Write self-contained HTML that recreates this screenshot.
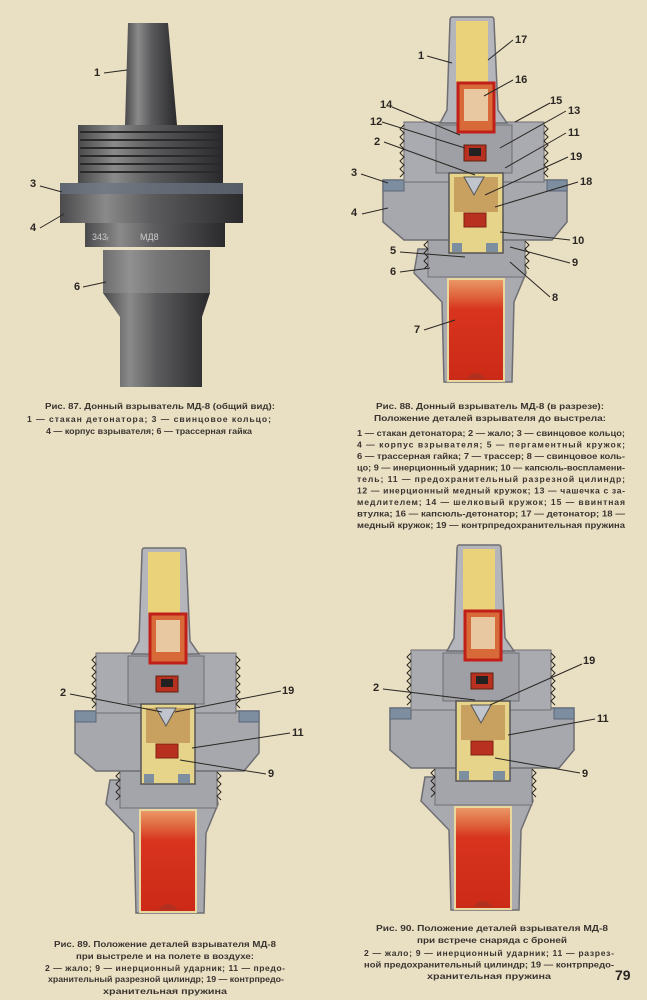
<!DOCTYPE html>
<html><head><meta charset="utf-8"><style>
html,body{margin:0;padding:0;background:#e9dfc3;}
svg{display:block}
text{font-family:"Liberation Sans","DejaVu Sans",sans-serif;}
.n{font-size:11px;font-weight:bold;fill:#2a2622}
.c{font-size:8.6px;font-weight:bold;fill:#3a3430}
.ld{stroke:#2a2622;stroke-width:1;fill:none}
</style></head><body>
<svg width="647" height="1000" viewBox="0 0 647 1000" xmlns="http://www.w3.org/2000/svg">
<defs>
<linearGradient id="mg" x1="0" x2="1" y1="0" y2="0">
<stop offset="0" stop-color="#4a4a4c"/><stop offset="0.25" stop-color="#8a8a8a"/><stop offset="0.5" stop-color="#5c5c5e"/><stop offset="1" stop-color="#2a2a2c"/></linearGradient>
<linearGradient id="tr" x1="0" x2="0" y1="0" y2="1">
<stop offset="0" stop-color="#eb9a6a"/><stop offset="0.15" stop-color="#e06a40"/><stop offset="0.3" stop-color="#d8341e"/><stop offset="1" stop-color="#cc2a18"/></linearGradient>
<g id="fuse">
 <!-- skirt -->
 <path d="M-56,232 L48,232 L52,256 L40,285 L38,365 L-30,365 L-32,285 L-60,256 Z" fill="#a9aab0" stroke="#6e6e72" stroke-width="1.5"/>
 <rect x="-26" y="262" width="56" height="102" fill="url(#tr)" stroke="#e8d8a0" stroke-width="2"/>
 <path d="M-8,362 Q2,350 12,362 Z" fill="#b03020"/>
 <!-- neck -->
 <rect x="-46" y="220" width="97" height="40" fill="#a3a5ab" stroke="#6e6e72"/>
 <path d="M-46,224 l-4,4 l4,4 l-4,4 l4,4 l-4,4 l4,4 l-4,4 M51,224 l4,4 l-4,4 l4,4 l-4,4 l4,4 l-4,4 l4,4" class="ld" stroke="#555"/>
 <!-- flange -->
 <path d="M-91,163 L93,163 L93,205 L78,223 L-70,223 L-91,205 Z" fill="#a6a8ae" stroke="#6e6e72" stroke-width="1.5"/>
 <rect x="-91" y="163" width="21" height="11" fill="#7d8ea0" stroke="#5a6676"/>
 <rect x="73" y="163" width="20" height="11" fill="#7d8ea0" stroke="#5a6676"/>
 <!-- thread block -->
 <rect x="-70" y="105" width="140" height="60" fill="#a9abb1" stroke="#6e6e72"/>
 <path d="M-70,108 l-4,4 l4,4 l-4,4 l4,4 l-4,4 l4,4 l-4,4 l4,4 l-4,4 l4,4 l-4,4 l4,4 l-4,4 M70,108 l4,4 l-4,4 l4,4 l-4,4 l4,4 l-4,4 l4,4 l-4,4 l4,4 l-4,4 l4,4 l-4,4 l4,4" class="ld" stroke="#555"/>
 <rect x="-38" y="108" width="76" height="48" fill="#9ea0a6" stroke="#6e6e72"/>
 <!-- chamber -->
 <rect x="-25" y="156" width="54" height="80" fill="#e6d48a" stroke="#555" stroke-width="1.5"/>
 <rect x="-20" y="160" width="44" height="35" fill="#c8a060"/>
 <path d="M-10,160 L0,178 L10,160 Z" fill="#c0c4cc" stroke="#555"/>
 <rect x="-10" y="196" width="22" height="14" fill="#b83020" stroke="#802010"/>
 <rect x="-22" y="226" width="10" height="9" fill="#7d8ea0"/><rect x="12" y="226" width="12" height="9" fill="#7d8ea0"/>
 <rect x="-10" y="128" width="22" height="16" fill="#b83020" stroke="#602010"/>
 <rect x="-5" y="131" width="12" height="8" fill="#222"/>
 <!-- cap -->
 <path d="M-22,0 L18,0 Q20,0 20,4 L24,93 L33,106 L-34,106 L-27,93 L-24,4 Q-24,0 -22,0 Z" fill="#b4b6bc" stroke="#6e6e72" stroke-width="1.5"/>
 <rect x="-18" y="4" width="32" height="62" fill="#e9d27a"/>
 <rect x="-16" y="66" width="36" height="49" fill="#d86a3a" stroke="#c02018" stroke-width="3"/>
 <rect x="-10" y="72" width="24" height="32" fill="#e8c8a0"/>
</g>
</defs>

<!-- Fig 87 -->
<path d="M128,23 L168,23 L177,125 L125,125 Z" fill="url(#mg)"/>
<rect x="78" y="125" width="145" height="58" fill="url(#mg)"/>
<g stroke="#2a2a2a" stroke-width="2">
<line x1="80" y1="132" x2="221" y2="132"/><line x1="80" y1="140" x2="221" y2="140"/><line x1="80" y1="148" x2="221" y2="148"/><line x1="80" y1="156" x2="221" y2="156"/><line x1="80" y1="164" x2="221" y2="164"/><line x1="80" y1="172" x2="221" y2="172"/></g>
<rect x="60" y="183" width="183" height="40" fill="url(#mg)"/>
<rect x="60" y="183" width="183" height="11" fill="#6a7482" opacity="0.7"/>
<rect x="85" y="223" width="140" height="24" fill="url(#mg)"/>
<text x="92" y="240" font-size="9" fill="#ccc">343ᵣ</text><text x="140" y="240" font-size="9" fill="#ccc">МД8</text>
<path d="M103,250 L210,250 L210,293 L202,317 L202,387 L120,387 L120,317 L103,293 Z" fill="url(#mg)"/>
<rect x="103" y="250" width="107" height="43" fill="#9a9a9a" opacity="0.45"/>
<text class="n" x="94" y="76">1</text><line class="ld" x1="104" y1="73" x2="127" y2="70"/>
<text class="n" x="30" y="187">3</text><line class="ld" x1="40" y1="186" x2="62" y2="192"/>
<text class="n" x="30" y="231">4</text><line class="ld" x1="40" y1="228" x2="64" y2="214"/>
<text class="n" x="74" y="290">6</text><line class="ld" x1="83" y1="287" x2="106" y2="282"/>

<text class="c" x="160" y="409" text-anchor="middle" textLength="230" lengthAdjust="spacingAndGlyphs">Рис. 87. Донный взрыватель МД-8 (общий вид):</text>
<text class="c" x="27" y="422" textLength="244" lengthAdjust="spacing">1 — стакан детонатора; 3 — свинцовое кольцо;</text>
<text class="c" x="46" y="434" textLength="206" lengthAdjust="spacingAndGlyphs">4 — корпус взрывателя; 6 — трассерная гайка</text>

<!-- Fig 88 -->
<use href="#fuse" x="474" y="17"/>
<g class="n">
<text x="418" y="59">1</text><text x="515" y="43">17</text><text x="515" y="83">16</text><text x="550" y="104">15</text>
<text x="380" y="108">14</text><text x="568" y="114">13</text><text x="370" y="125">12</text><text x="568" y="136">11</text>
<text x="374" y="145">2</text><text x="570" y="160">19</text><text x="351" y="176">3</text><text x="580" y="185">18</text>
<text x="351" y="216">4</text><text x="572" y="244">10</text><text x="390" y="254">5</text><text x="572" y="266">9</text>
<text x="390" y="275">6</text><text x="552" y="301">8</text><text x="414" y="333">7</text></g>
<g class="ld">
<path d="M427,56 L452,63 M513,40 L488,60 M513,80 L484,96 M550,103 L515,122 M392,107 L460,135 M566,111 L500,148 M382,122 L465,148 M566,133 L505,168 M384,142 L475,175 M568,157 L485,195 M361,174 L388,183 M578,182 L495,207 M362,214 L388,208 M570,240 L500,232 M400,252 L465,257 M570,263 L510,247 M400,272 L430,268 M550,297 L510,262 M424,330 L455,320"/></g>
<text class="c" x="490" y="409" text-anchor="middle" textLength="228" lengthAdjust="spacingAndGlyphs">Рис. 88. Донный взрыватель МД-8 (в разрезе):</text>
<text class="c" x="490" y="421" text-anchor="middle" textLength="232" lengthAdjust="spacingAndGlyphs">Положение деталей взрывателя до выстрела:</text>
<g class="c">
<text x="357" y="436" textLength="268" lengthAdjust="spacingAndGlyphs">1 — стакан детонатора; 2 — жало; 3 — свинцовое кольцо;</text>
<text x="357" y="447.5" textLength="268" lengthAdjust="spacing">4 — корпус взрывателя; 5 — пергаментный кружок;</text>
<text x="357" y="459" textLength="268" lengthAdjust="spacingAndGlyphs">6 — трассерная гайка; 7 — трассер; 8 — свинцовое коль-</text>
<text x="357" y="470.5" textLength="268" lengthAdjust="spacingAndGlyphs">цо; 9 — инерционный ударник; 10 — капсюль-воспламени-</text>
<text x="357" y="482" textLength="268" lengthAdjust="spacing">тель; 11 — предохранительный разрезной цилиндр;</text>
<text x="357" y="493.5" textLength="268" lengthAdjust="spacing">12 — инерционный медный кружок; 13 — чашечка с за-</text>
<text x="357" y="505" textLength="268" lengthAdjust="spacing">медлителем; 14 — шелковый кружок; 15 — ввинтная</text>
<text x="357" y="516.5" textLength="268" lengthAdjust="spacingAndGlyphs">втулка; 16 — капсюль-детонатор; 17 — детонатор; 18 —</text>
<text x="357" y="528" textLength="268" lengthAdjust="spacingAndGlyphs">медный кружок; 19 — контрпредохранительная пружина</text></g>

<!-- Fig 89 -->
<use href="#fuse" x="166" y="548"/>
<g class="n"><text x="60" y="696">2</text><text x="282" y="694">19</text><text x="292" y="736">11</text><text x="268" y="777">9</text></g>
<g class="ld"><path d="M70,694 L162,712 M281,691 L175,712 M290,733 L192,748 M266,774 L180,760"/></g>
<text class="c" x="165" y="947" text-anchor="middle" textLength="222" lengthAdjust="spacingAndGlyphs">Рис. 89. Положение деталей взрывателя МД-8</text>
<text class="c" x="165" y="959" text-anchor="middle" textLength="178" lengthAdjust="spacingAndGlyphs">при выстреле и на полете в воздухе:</text>
<text class="c" x="45" y="971" textLength="240" lengthAdjust="spacing">2 — жало; 9 — инерционный ударник; 11 — предо-</text>
<text class="c" x="48" y="982" textLength="236" lengthAdjust="spacingAndGlyphs">хранительный разрезной цилиндр; 19 — контрпредо-</text>
<text class="c" x="165" y="994" text-anchor="middle" textLength="124" lengthAdjust="spacingAndGlyphs">хранительная пружина</text>

<!-- Fig 90 -->
<use href="#fuse" x="481" y="545"/>
<g class="n"><text x="373" y="691">2</text><text x="583" y="664">19</text><text x="597" y="722">11</text><text x="582" y="777">9</text></g>
<g class="ld"><path d="M383,689 L475,700 M582,664 L490,705 M595,719 L508,735 M580,773 L495,758"/></g>
<text class="c" x="492" y="931" text-anchor="middle" textLength="232" lengthAdjust="spacingAndGlyphs">Рис. 90. Положение деталей взрывателя МД-8</text>
<text class="c" x="492" y="943" text-anchor="middle" textLength="150" lengthAdjust="spacingAndGlyphs">при встрече снаряда с броней</text>
<text class="c" x="364" y="956" textLength="250" lengthAdjust="spacing">2 — жало; 9 — инерционный ударник; 11 — разрез-</text>
<text class="c" x="364" y="967.5" textLength="250" lengthAdjust="spacingAndGlyphs">ной предохранительный цилиндр; 19 — контрпредо-</text>
<text class="c" x="489" y="979" text-anchor="middle" textLength="124" lengthAdjust="spacingAndGlyphs">хранительная пружина</text>
<text x="615" y="980" font-size="14" font-weight="bold" fill="#2a2622">79</text>
</svg>
</body></html>
